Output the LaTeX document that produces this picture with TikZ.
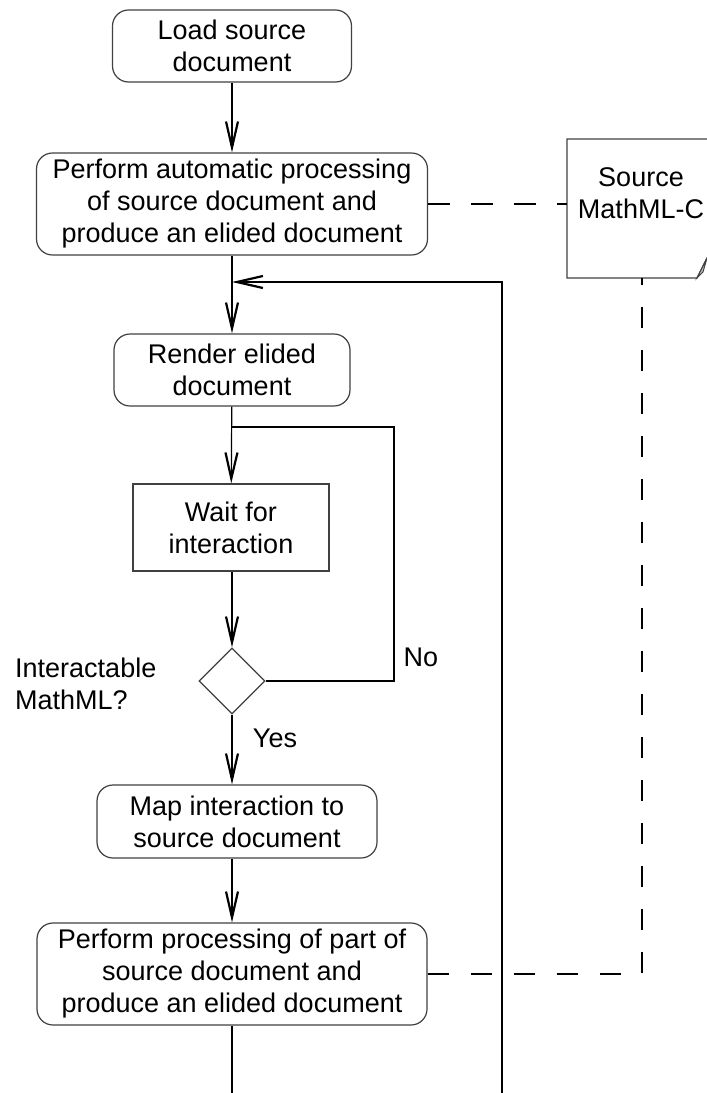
\documentclass[tikz,border=0pt]{standalone}
\usepackage{fontspec}
\setmainfont{Liberation Sans}
\usetikzlibrary{arrows.meta,shapes.geometric}

\begin{document}
\begin{tikzpicture}[x=1pt, y=-1pt,
    actbox/.style={draw=black!75, line width=1.2pt, rounded corners=16pt, align=center, font=\fontsize{27}{32}\selectfont},
    waitbox/.style={draw=black!75, line width=1.2pt, align=center, font=\fontsize{27}{32}\selectfont},
    decide/.style={diamond, draw=black!75, line width=1.2pt, minimum width=66pt, minimum height=66pt, inner sep=0pt},
    flow/.style={line width=1.2pt, -{Straight Barb[length=26pt,width=12pt,line width=2.2pt]}},
    plain/.style={line width=1.2pt},
    dashline/.style={line width=1.2pt, dash pattern=on 21.5pt off 21.5pt},
    lbl/.style={font=\fontsize{27}{32}\selectfont, inner sep=0pt, align=left}]
    \useasboundingbox (0,0) rectangle (707,1093);
    \clip (0,0) rectangle (707,1093);
    % activities
    \node[actbox, minimum width=239pt, minimum height=72pt] (load) at (232,46) {Load source\\document};
    \node[actbox, minimum width=391pt, minimum height=102pt] (autoproc) at (232,204) {Perform automatic processing\\of source document and\\produce an elided document};
    \node[actbox, minimum width=236pt, minimum height=72pt] (render) at (232,370) {Render elided\\document};
    \node[waitbox, minimum width=196pt, minimum height=87pt] (wait) at (231,527.5) {Wait for\\interaction};
    \node[decide] (check) at (232,681) {};
    \node[actbox, minimum width=280pt, minimum height=73pt] (mapint) at (237,821.5) {Map interaction to\\source document};
    \node[actbox, minimum width=390pt, minimum height=102pt] (partproc) at (232,974) {Perform processing of part of\\source document and\\produce an elided document};
    % labels
    \node[lbl, anchor=west] (checklbl) at (15,684) {Interactable\\MathML?};
    \node[lbl] (nolbl) at (421,657) {No};
    \node[lbl] (yeslbl) at (275,738) {Yes};
    % note
    \draw[draw=black!75, line width=1.2pt] (720,139) -- (567,139) -- (567,278) -- (697,278) -- (712,248);
    \filldraw[fill=black!25, draw=black!75, line width=1pt] (697,278) -- (707,258) -- (703,272) -- cycle;
    \node[lbl, align=center] (notetext) at (641,193) {Source\\MathML-C};
    \coordinate (noteW) at (567,204);
    \coordinate (noteS) at (642,278);
    % free ends
    \coordinate (join) at (232,282);
    \coordinate (loopend) at (502,1093);
    \coordinate (trunkend) at (232,1093);
    \coordinate (nocorner) at (394,427);
    % flow
    \draw[flow] (load) -- (autoproc);
    \draw[flow] (autoproc) -- (render);
    \draw[flow] (render) -- (wait);
    \draw[flow] (wait.south -| check) -- (check);
    \draw[flow] (check.south) -- (check.south |- mapint.north);
    \draw[flow] (mapint.south -| partproc.north) -- (partproc.north);
    \draw[plain] (partproc) -- (trunkend);
    \draw[flow] (loopend) |- (join);
    \draw[plain] (check.east) -| (nocorner) -- (nocorner -| render.south);
    % links to the note
    \draw[dashline] (autoproc.east) -- (noteW);
    \draw[dashline] (partproc.east) -| (noteS);
\end{tikzpicture}
\end{document}
